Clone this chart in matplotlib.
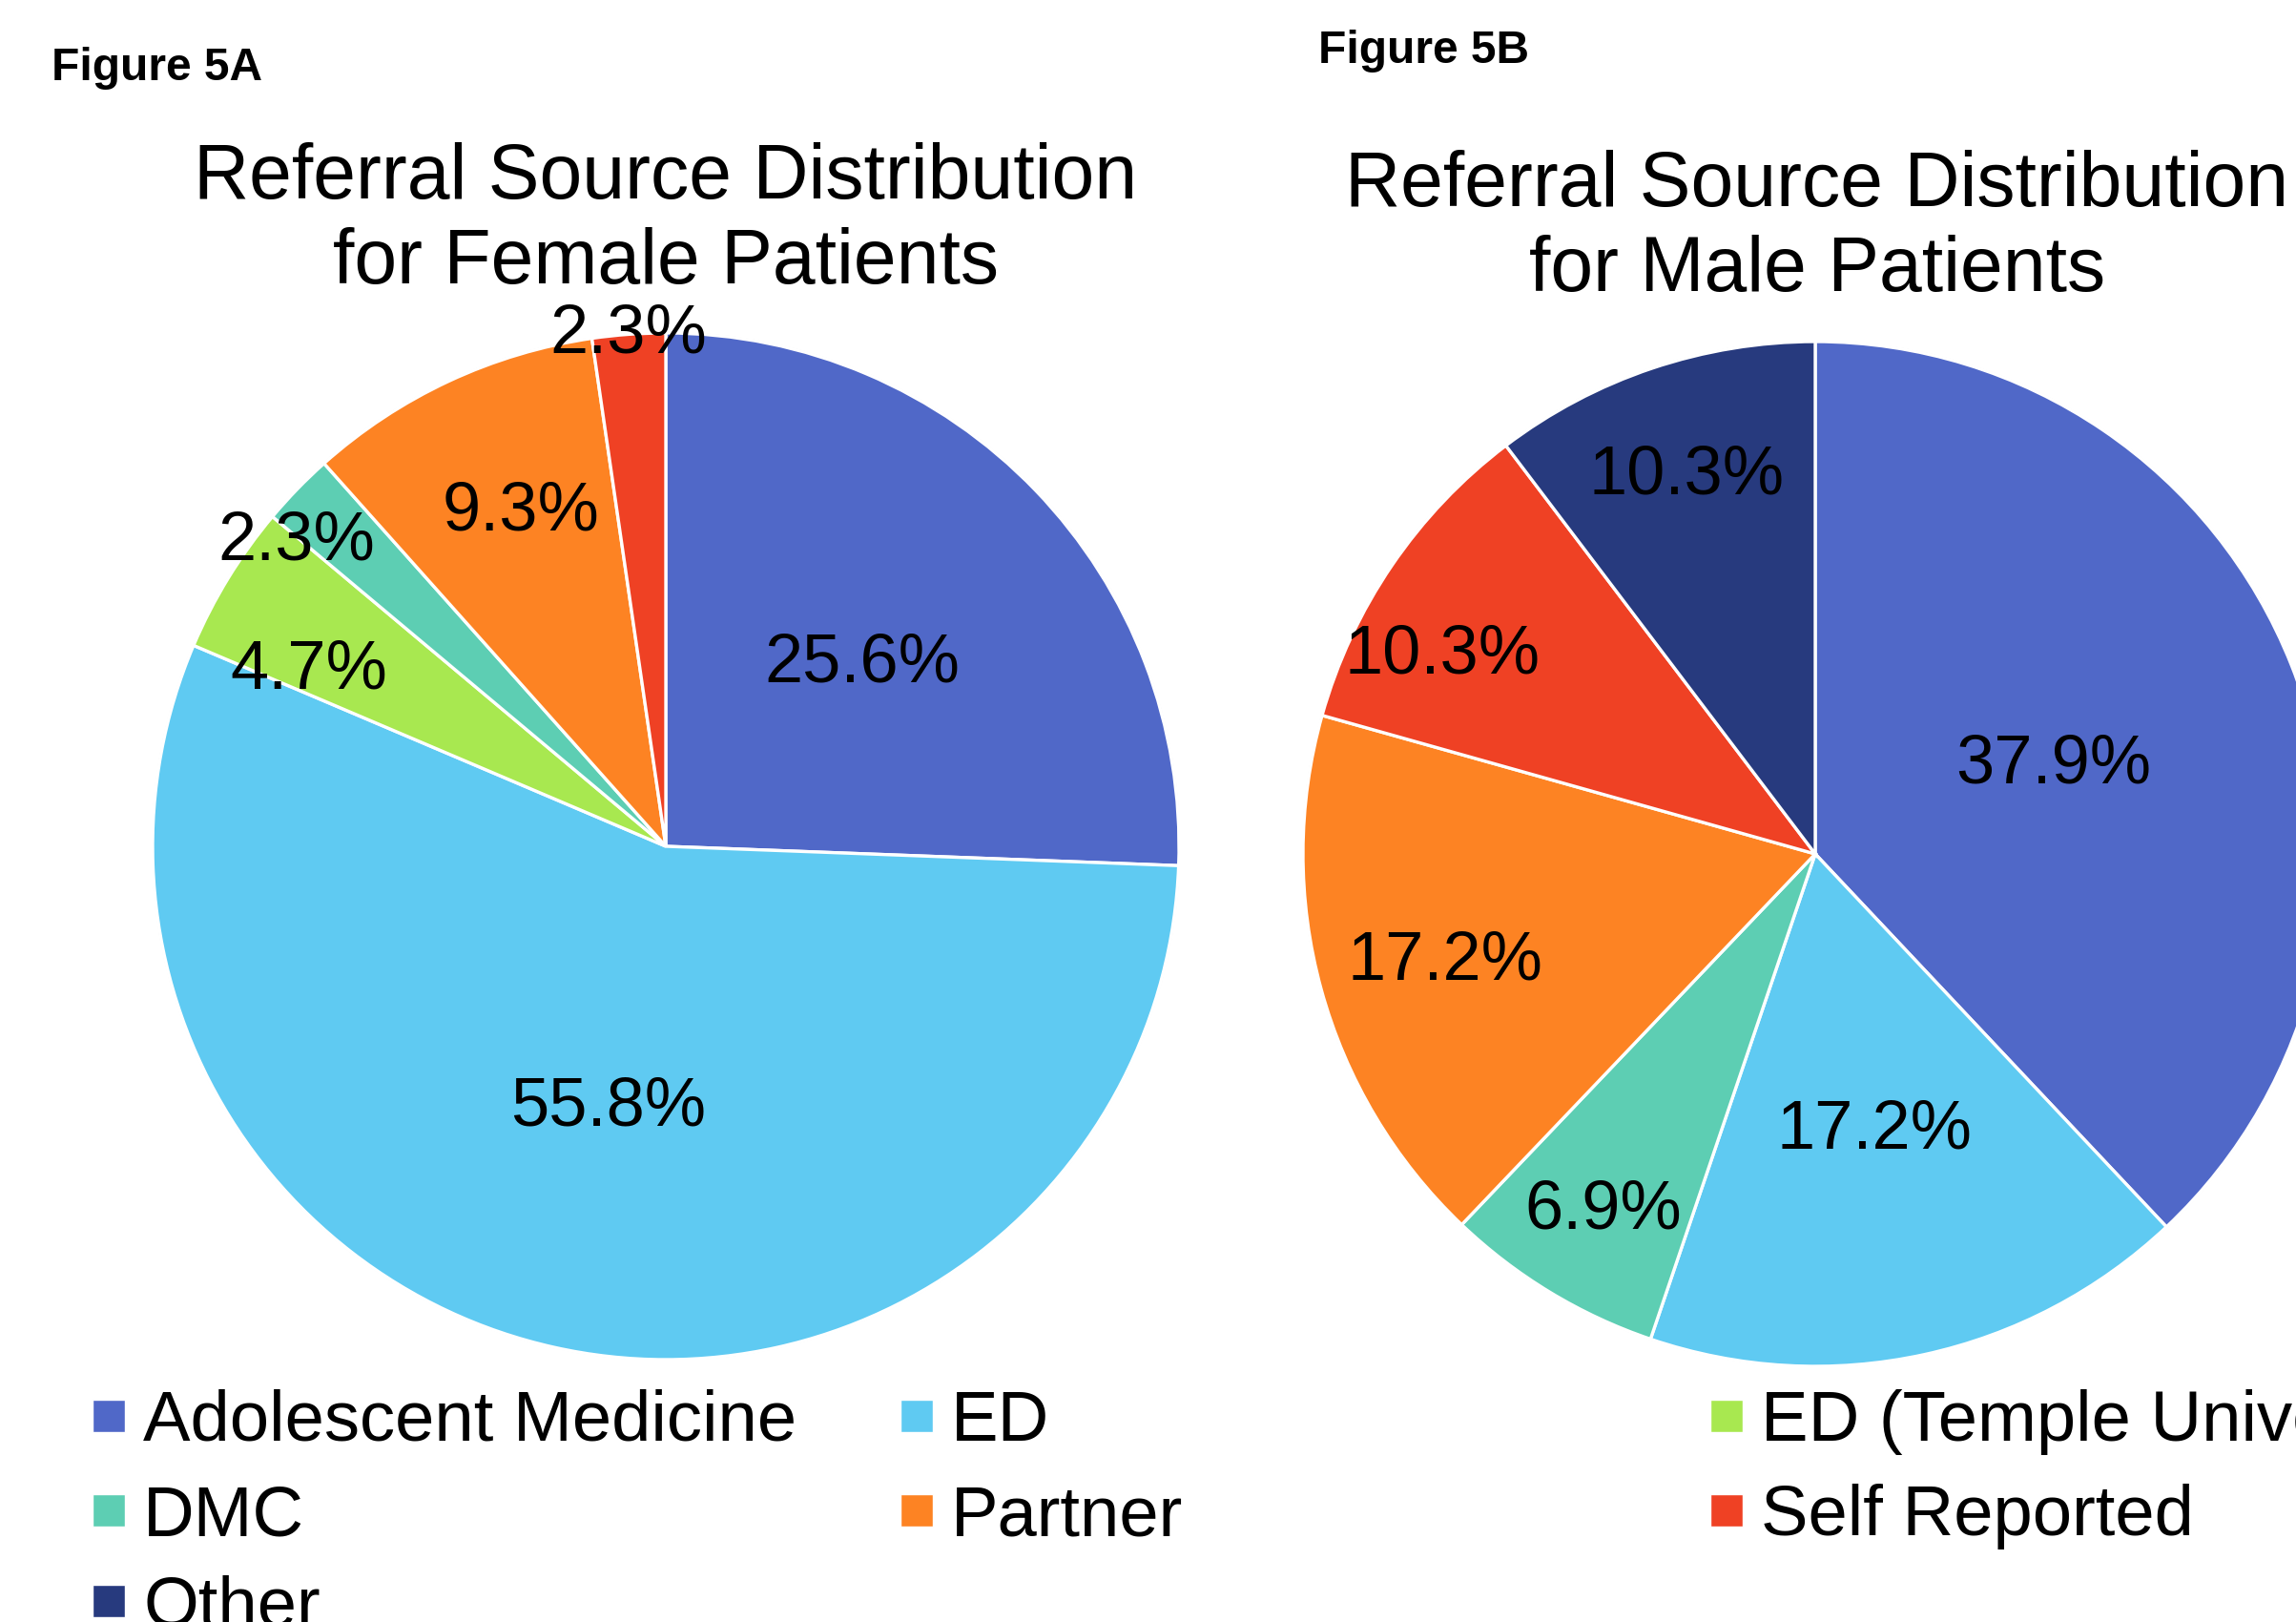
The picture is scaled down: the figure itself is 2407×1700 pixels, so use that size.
import numpy as np
import matplotlib
matplotlib.use('Agg')
import matplotlib.pyplot as plt
from matplotlib.patches import Rectangle, Circle

plt.rcParams['font.family'] = ['Liberation Sans', 'DejaVu Sans']

W, H = 2407, 1700

# dati (percentuali)
categories = ['Adolescent Medicine', 'ED', 'ED (Temple University)', 'DMC',
              'Partner', 'Self Reported', 'Other']
female_pct = [25.6, 55.8, 4.7, 2.3, 9.3, 2.3, 0.0]
male_pct = [37.9, 17.2, 0.0, 6.9, 17.2, 10.3, 10.3]
colors = ['#5068c8', '#5fcaf2', '#a8e850', '#5dceb3', '#fd8323', '#ef4124', '#273a7e']

# posizione etichette: distanza dal centro (frazione del raggio) e scarto angolare (gradi)
female_lab_r = [0.53, 0.51, 0.78, 0.94, 0.72, 1.01, 0.6]
female_lab_da = [0, 0, 4.5, 4.0, -2.0, 0, 0]
male_lab_r = [0.50, 0.54, 0.8, 0.80, 0.75, 0.83, 0.79]
male_lab_da = [0, 0, 0, 0, 0, 5.5, 0]


def fig_xy(x, y):
    # pixel -> coordinate figura
    return x / W, 1 - y / H


def add_pie_axes(fig, cx, cy, r):
    return fig.add_axes([(cx - r) / W, (H - cy - r) / H, 2 * r / W, 2 * r / H])


def draw_pie(ax, values, lab_r, lab_da):
    idx = [i for i, v in enumerate(values) if v > 0]
    wedges, _ = ax.pie([values[i] for i in idx], colors=[colors[i] for i in idx],
                       startangle=90, counterclock=False, radius=1,
                       wedgeprops=dict(edgecolor='white', linewidth=2.4))
    for w, i in zip(wedges, idx):
        ang = np.deg2rad((w.theta1 + w.theta2) / 2 + lab_da[i])
        r = lab_r[i]
        ax.text(r * np.cos(ang), r * np.sin(ang) - 0.012, f'{values[i]:.1f}%',
                ha='center', va='center', fontsize=52, color='black')
    ax.add_patch(Circle((0, 0), 1.0, fill=False, edgecolor='#d5d5d5', lw=1.5, zorder=0))
    ax.set_xlim(-1, 1)
    ax.set_ylim(-1, 1)
    ax.axis('off')


fig = plt.figure(figsize=(W / 100, H / 100), dpi=100)
fig.patch.set_facecolor('white')

ax1 = add_pie_axes(fig, 698, 887, 538)
draw_pie(ax1, female_pct, female_lab_r, female_lab_da)
ax2 = add_pie_axes(fig, 1903, 895, 537)
draw_pie(ax2, male_pct, male_lab_r, male_lab_da)

# etichette figura
fig.text(*fig_xy(54, 71), 'Figure 5A', fontsize=34.5, fontweight='bold', ha='left', va='center')
fig.text(*fig_xy(1382, 54), 'Figure 5B', fontsize=34.5, fontweight='bold', ha='left', va='center')

# titoli
fig.text(*fig_xy(698, 297), 'Referral Source Distribution\nfor Female Patients',
         fontsize=58, ha='center', va='baseline', linespacing=1.22, multialignment='center')
fig.text(*fig_xy(1905, 305), 'Referral Source Distribution\nfor Male Patients',
         fontsize=58, ha='center', va='baseline', linespacing=1.22, multialignment='center')

# legenda (3 colonne, ordine per righe)
col_x = [97, 944, 1793]
row_y = [1484, 1583, 1678]
for k, name in enumerate(categories):
    cx = col_x[k % 3]
    cy = row_y[k // 3]
    x0, y0 = fig_xy(cx, cy + 17)
    fig.add_artist(Rectangle((x0, y0), 34 / W, 34 / H, transform=fig.transFigure,
                             facecolor=colors[k], edgecolor='white', lw=1))
    fig.text(*fig_xy(cx + 53, cy + 26), name, fontsize=53.5, ha='left', va='baseline')

fig.savefig('out.png', dpi=100, facecolor='white')
